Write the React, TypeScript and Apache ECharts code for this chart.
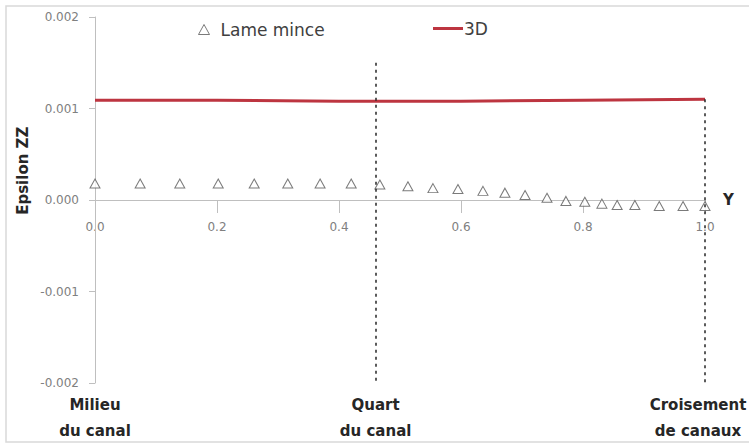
import { useEffect, useRef } from 'react';
import * as echarts from 'echarts';

// Normalised position along the channel (Y axis)
const lameMincePositions = [
  0, 0.074, 0.139, 0.202, 0.261, 0.316, 0.369, 0.42, 0.467, 0.513, 0.554, 0.595,
  0.636, 0.672, 0.705, 0.741, 0.772, 0.803, 0.831, 0.856, 0.885, 0.925, 0.964, 1.0,
];
// Epsilon ZZ, thin-plate model
const lameMinceValues = [
  0.00018, 0.00018, 0.00018, 0.00018, 0.00018, 0.00018, 0.00018, 0.00018,
  0.00017, 0.00015, 0.00013, 0.00012, 0.0001, 0.00008, 0.000055, 0.000025,
  -0.00001, -0.00002, -0.00004, -0.000055, -0.000055, -0.000065, -0.000065, -0.000065,
];
// Epsilon ZZ, 3D model
const model3DPositions = [0, 0.2, 0.4, 0.6, 0.8, 1.0];
const model3DValues = [0.00109, 0.00109, 0.00108, 0.00108, 0.00109, 0.0011];

// Tick labels of the horizontal axis
const xTickValues = [0, 0.2, 0.4, 0.6, 0.8, 1.0];
const xTickLabels = ['0.0', '0.2', '0.4', '0.6', '0.8', '1.0'];

// Reference sections along the channel
const sectionPositions = [0, 0.46, 1.0];
const sectionNames = ['Milieu\ndu canal', 'Quart\ndu canal', 'Croisement\nde canaux'];
// Vertical guides: position and top value
const guidePositions = [0.46, 1.0];
const guideTops = [0.0015, 0.0011];

const yMin = -0.002;
const yMax = 0.002;
const yStep = 0.001;
const xMin = 0;
const xMax = 1.0;
const xStep = 0.2;

const FONT = 'DejaVu Sans';
const W = 749;
const H = 446;

export default function App() {
  const ref = useRef<HTMLDivElement>(null);

  useEffect(() => {
    const chart = echarts.init(ref.current!, null, { renderer: 'svg' });

    const option: any = {
      animation: false,
      backgroundColor: '#ffffff',
      grid: { left: 95, right: 44, top: 17, bottom: 63 },
      legend: [
        {
          data: [
            {
              name: 'Lame mince',
              icon: 'triangle',
              itemStyle: { color: '#ffffff', borderColor: '#595959', borderWidth: 1 },
            },
          ],
          left: 193,
          top: 16,
          itemWidth: 11,
          itemHeight: 10,
          textStyle: { fontFamily: FONT, fontSize: 17, color: '#404040', padding: [0, 0, 0, 6] },
        },
        {
          data: [{ name: '3D', icon: 'rect', itemStyle: { color: '#bd3540' } }],
          left: 428,
          top: 15,
          itemWidth: 30,
          itemHeight: 3,
          textStyle: { fontFamily: FONT, fontSize: 17, color: '#404040', padding: [0, 0, 0, -4] },
        },
      ],
      xAxis: {
        type: 'value',
        min: xMin,
        max: xMax,
        interval: xStep,
        name: 'Y',
        nameLocation: 'end',
        nameGap: 18,
        nameTextStyle: { fontFamily: FONT, fontSize: 15, fontWeight: 'bold', color: '#262626' },
        axisLine: { onZero: true, lineStyle: { color: '#bfbfbf', width: 1 } },
        axisTick: { show: true, length: 13, lineStyle: { color: '#bfbfbf' } },
        axisLabel: { show: false },
        splitLine: { show: false },
      },
      yAxis: {
        type: 'value',
        min: yMin,
        max: yMax,
        interval: yStep,
        axisLine: { show: true, lineStyle: { color: '#bfbfbf', width: 1 } },
        axisTick: { show: true, length: 6, lineStyle: { color: '#bfbfbf' } },
        axisLabel: {
          margin: 16,
          fontFamily: FONT,
          fontSize: 12,
          color: '#808080',
          formatter: (v: number) => v.toFixed(3),
        },
        splitLine: { show: false },
      },
      series: [
        {
          name: 'Lame mince',
          type: 'scatter',
          symbol: 'triangle',
          symbolSize: [10, 9],
          itemStyle: { color: '#ffffff', borderColor: '#595959', borderWidth: 1 },
          data: lameMincePositions.map((x, i) => [x, lameMinceValues[i]]),
          z: 4,
        },
        {
          name: '3D',
          type: 'line',
          symbol: 'none',
          lineStyle: { color: '#bd3540', width: 3 },
          itemStyle: { color: '#bd3540' },
          data: model3DPositions.map((x, i) => [x, model3DValues[i]]),
          markLine: {
            silent: true,
            symbol: ['none', 'none'],
            label: { show: false },
            lineStyle: { color: '#262626', width: 1.5, type: [3, 4] },
            data: guidePositions.map((x, i) => [
              { coord: [x, guideTops[i]] },
              { coord: [x, yMin] },
            ]),
          },
          z: 3,
        },
      ],
      graphic: [
        {
          id: 'frame',
          type: 'rect',
          silent: true,
          z: -1,
          shape: { x: 6, y: 6, width: 800, height: 436 },
          style: { fill: 'none', stroke: '#d9d9d9', lineWidth: 1.5 },
        },
      ],
    };

    chart.setOption(option);

    const toPx = (x: number, y: number) =>
      chart.convertToPixel({ gridIndex: 0 }, [x, y]) as number[];

    const [, yBottom] = toPx(xMin, yMin);
    const [, yTop] = toPx(xMin, yMax);
    const [xLeft, yZero] = toPx(xMin, 0);

    const tickLabels = xTickValues.map((v, i) => {
      const [px] = toPx(v, 0);
      return {
        id: 'xtick-' + i,
        type: 'text',
        silent: true,
        x: px,
        y: yZero + 27,
        style: {
          text: xTickLabels[i],
          fontFamily: FONT,
          fontSize: 12,
          fill: '#808080',
          align: 'center',
          verticalAlign: 'middle',
        },
      };
    });

    const sectionLabels = sectionNames.map((name, i) => {
      const [px] = toPx(sectionPositions[i], yMin);
      const cx = Math.min(px, W - 51);
      return {
        id: 'section-' + i,
        type: 'text',
        silent: true,
        x: cx,
        y: yBottom + 9,
        style: {
          text: name,
          fontFamily: FONT,
          fontSize: 15,
          fontWeight: 'bold',
          fill: '#262626',
          align: 'center',
          verticalAlign: 'top',
          lineHeight: 26,
        },
      };
    });

    chart.setOption({
      graphic: [
        ...tickLabels,
        ...sectionLabels,
        {
          id: 'y-title',
          type: 'text',
          silent: true,
          x: xLeft - 72,
          y: yTop + (yBottom - yTop) * 0.42,
          rotation: Math.PI / 2,
          style: {
            text: 'Epsilon ZZ',
            fontFamily: FONT,
            fontSize: 15,
            fontWeight: 'bold',
            fill: '#262626',
            align: 'center',
            verticalAlign: 'middle',
          },
        },
      ],
    });

    return () => chart.dispose();
  }, []);

  return (
    <div
      ref={ref}
      style={{ position: 'absolute', left: 0, top: 0, width: W, height: H }}
    />
  );
}
